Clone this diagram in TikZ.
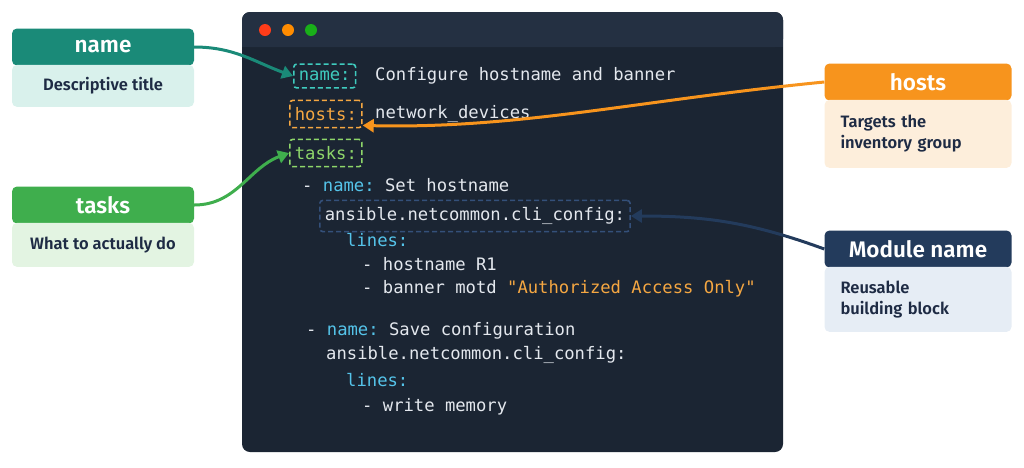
\documentclass[tikz,border=0pt]{standalone}
\usepackage{fontspec}
\setmainfont{Fira Sans}[BoldFont={Fira Sans SemiBold}]
\setmonofont{DejaVu Sans Mono}
\usetikzlibrary{positioning,arrows.meta}
\definecolor{winbg}{HTML}{1B2533}
\definecolor{winbar}{HTML}{243042}
\definecolor{codetxt}{HTML}{E4E8EE}
\definecolor{keyteal}{HTML}{3FCBBE}
\definecolor{keyorange}{HTML}{F5A742}
\definecolor{keygreen}{HTML}{8ED66A}
\definecolor{keycyan}{HTML}{55C4EA}
\definecolor{navyline}{HTML}{34507A}
\definecolor{tealhead}{HTML}{1A8A78}
\definecolor{tealbody}{HTML}{D9F1EC}
\definecolor{greenhead}{HTML}{3FAE4D}
\definecolor{greenbody}{HTML}{E3F4E2}
\definecolor{orangehead}{HTML}{F7941D}
\definecolor{orangebody}{HTML}{FDEEDB}
\definecolor{navyhead}{HTML}{233B5C}
\definecolor{navybody}{HTML}{E6EDF5}
\definecolor{labtxt}{HTML}{1E2B44}
\tikzset{
  code/.style={anchor=west, inner sep=0pt, text=codetxt, font=\ttfamily\fontsize{17.2}{19}\selectfont},
  keybox/.style={code, draw=#1, text=#1, dashed, dash pattern=on 5pt off 3pt, line width=1.6pt, rounded corners=3pt, inner xsep=5pt, inner ysep=7pt},
  head/.style={fill=#1, text=white, rounded corners=5pt, minimum width=182pt, minimum height=37pt, font=\bfseries\fontsize{22.5}{24}\selectfont},
  body/.style={fill=#1, text=labtxt, rounded corners=5pt, minimum width=182pt, align=left, font=\bfseries\fontsize{16.5}{21}\selectfont},
  callout/.style={draw=#1, line width=3pt, -{Triangle[length=11pt,width=13pt]}},
}
\begin{document}
\begin{tikzpicture}[x=1pt,y=-1pt]
\useasboundingbox (0,0) rectangle (1024,467);
% window
\fill[winbg, rounded corners=8pt] (242,12) rectangle (783,452);
\fill[winbar, rounded corners=8pt] (242,12) rectangle (783,47);
\fill[winbar] (242,30) rectangle (783,47);
\fill[red!70!orange!90] (265,30) circle (6);
\fill[orange!90!yellow] (288,30) circle (6);
\fill[green!65!black!90] (311,30) circle (6);
% code lines
\node[code] (dash1) at (279,76) {-};
\node[keybox=keyteal] (kname) at (293,76) {name:};
\node[code] (v1) at (375,76) {Configure hostname and banner};
\node[keybox=keyorange] (khosts) at (289,114) {hosts:};
\node[code] (v2) at (375,114) {network\_devices};
\node[keybox=keygreen] (ktasks) at (289,153) {tasks:};
\node[code] (l4) at (302,185) {- \textcolor{keycyan}{name:} Set hostname};
\node[keybox=navyline, text=codetxt] (kmod) at (319,216) {ansible.netcommon.cli\_config:};
\node[code, text=keycyan] (l6) at (346,240) {lines:};
\node[code] (l7) at (362,264) {- hostname R1};
\node[code] (l8) at (362,289) {- banner motd \textcolor{keyorange}{"Authorized Access Only"}};
\node[code] (l9) at (306,331) {- \textcolor{keycyan}{name:} Save configuration};
\node[code] (l10) at (326,355) {ansible.netcommon.cli\_config:};
\node[code, text=keycyan] (l11) at (346,380) {lines:};
\node[code] (l12) at (362,407) {- write memory};
% labels
\node[head=tealhead] (hname) at (103,47) {name};
\node[body=tealbody, minimum height=42pt, below=-1pt of hname] (bname) {Descriptive title};
\node[head=greenhead] (htasks) at (103,205) {tasks};
\node[body=greenbody, minimum height=44pt, below=-1pt of htasks] (btasks) {What to actually do};
\node[head=orangehead, minimum width=187pt] (hhosts) at (918,82) {hosts};
\node[body=orangebody, minimum width=187pt, minimum height=68pt, text width=155pt, below=-1pt of hhosts] (bhosts) {Targets the\\inventory group};
\node[head=navyhead, minimum width=187pt] (hmod) at (918,249) {Module name};
\node[body=navybody, minimum width=187pt, minimum height=65pt, text width=155pt, below=-1pt of hmod] (bmod) {Reusable\\building block};
% callouts
\draw[callout=tealhead] (hname.east) to[out=0, in=160] (kname.west);
\draw[callout=greenhead] (htasks.east) to[out=0, in=200] (ktasks.west);
\draw[callout=orangehead] (hhosts.west) .. controls (640,100) and (520,129) .. ([yshift=3pt]khosts.south east);
\draw[callout=navyhead] (hmod.west) to[out=160, in=0] (kmod.east);
\end{tikzpicture}
\end{document}
